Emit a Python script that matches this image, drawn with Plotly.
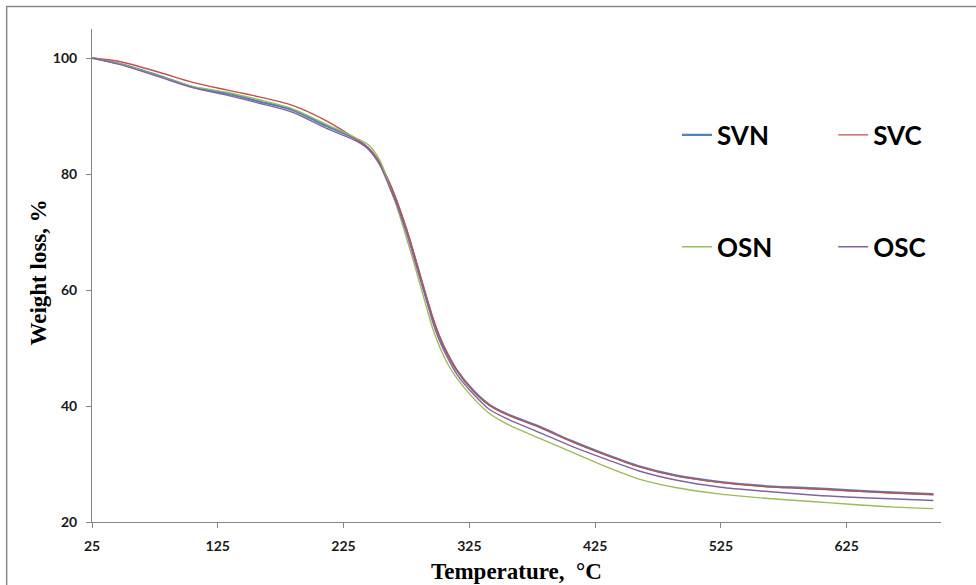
import plotly.graph_objects as go

temperature = [25, 47, 79, 105, 132, 158, 185, 211, 235, 245, 254, 262, 267, 275, 280, 285, 291, 296,
               301, 308, 315, 328, 341, 354, 381, 407, 434, 460, 490, 525, 560, 600, 625, 660, 694]

svn = [100, 99.0, 96.9, 95.0, 93.9, 92.5, 91.0, 88.3, 86.0, 84.4, 81.8, 78.0, 75.3, 70.3, 66.8, 63.0, 58.5, 55.0,
       52.0, 48.8, 46.2, 42.7, 40.2, 38.7, 36.4, 33.9, 31.6, 29.6, 28.0, 26.9, 26.2, 25.8, 25.5, 25.1, 24.8]
svc = [100, 99.4, 97.5, 95.8, 94.5, 93.3, 91.8, 89.2, 86.0, 84.4, 81.8, 78.3, 75.6, 70.6, 67.0, 63.3, 58.8, 55.2,
       52.2, 48.9, 46.2, 42.6, 40.1, 38.6, 36.3, 33.8, 31.5, 29.5, 27.9, 26.8, 26.1, 25.7, 25.4, 25.0, 24.7]
osn = [100, 99.0, 96.8, 95.1, 94.1, 92.8, 91.2, 88.6, 86.2, 85.0, 82.3, 77.6, 74.6, 69.0, 65.4, 61.6, 57.0, 53.3,
       50.4, 47.2, 44.8, 41.4, 38.7, 37.0, 34.4, 32.0, 29.5, 27.4, 25.9, 24.8, 24.1, 23.5, 23.1, 22.6, 22.3]
osc = [100, 98.9, 96.7, 94.9, 93.6, 92.2, 90.6, 87.9, 85.7, 84.2, 81.5, 77.5, 74.9, 69.9, 66.3, 62.6, 58.2, 54.4,
       51.4, 48.2, 45.5, 42.1, 39.4, 37.9, 35.4, 33.0, 30.8, 28.8, 27.2, 26.0, 25.3, 24.6, 24.3, 24.0, 23.7]

x_ticks = [25, 125, 225, 325, 425, 525, 625]
y_ticks = [20, 40, 60, 80, 100]

series = [
    ("SVN", svn, "#4F81BD", 2.2, "legend"),
    ("SVC", svc, "#C0504D", 1.4, "legend2"),
    ("OSN", osn, "#9BBB59", 1.4, "legend3"),
    ("OSC", osc, "#8064A2", 1.4, "legend4"),
]

fig = go.Figure()
for name, vals, color, w, lg in series:
    fig.add_trace(go.Scatter(
        x=temperature, y=vals, name=name, mode="lines", showlegend=True,
        line=dict(color=color, width=w, shape="spline", smoothing=0.8),
        legend=lg,
    ))

axis_color = "#868686"
tick_font = dict(family="Lato", size=14, color="#1a1a1a", weight="bold")
legend_font = dict(family="Lato", size=26, color="#000000", weight="bold")


def legend_box(x, y):
    return dict(x=x, y=y, xanchor="left", yanchor="middle", bgcolor="rgba(0,0,0,0)",
                font=legend_font, itemwidth=30, visible=True)


fig.update_layout(
    width=976, height=585,
    showlegend=True,
    margin=dict(l=92, r=35, t=29, b=63),
    paper_bgcolor="white", plot_bgcolor="white",
    xaxis=dict(range=[25, 700], tickvals=x_ticks, showgrid=False, zeroline=False,
               showline=True, linecolor=axis_color, linewidth=1,
               ticks="outside", ticklen=5, tickcolor=axis_color,
               tickfont=tick_font, ticklabelstandoff=6),
    yaxis=dict(range=[20, 105], tickvals=y_ticks, showgrid=False, zeroline=False,
               showline=True, linecolor=axis_color, linewidth=1,
               ticks="outside", ticklen=5, tickcolor=axis_color,
               tickfont=tick_font, ticklabelstandoff=6),
    legend=legend_box(0.689, 0.785),
    legend2=legend_box(0.873, 0.785),
    legend3=legend_box(0.689, 0.558),
    legend4=legend_box(0.873, 0.558),
    annotations=[
        dict(text="Temperature,  °C", xref="paper", yref="paper", x=0.5, y=0,
             xanchor="center", yanchor="middle", yshift=-49, showarrow=False,
             font=dict(family="Liberation Serif", size=23, color="#000000", weight="bold")),
        dict(text="Weight loss, %", xref="paper", yref="paper", x=0, y=0.5,
             xanchor="center", yanchor="middle", xshift=-54, yshift=3, textangle=-90,
             showarrow=False,
             font=dict(family="Liberation Serif", size=23, color="#000000", weight="bold")),
    ],
    shapes=[
        dict(type="rect", xref="paper", yref="paper", x0=-0.1005, y0=-0.3, x1=1.2, y1=1.0456,
             line=dict(color="#8a8a8a", width=1.5), layer="below"),
    ],
)

fig.write_html("out.html", config={"displayModeBar": False},
               post_script="document.body.style.margin='0';")
